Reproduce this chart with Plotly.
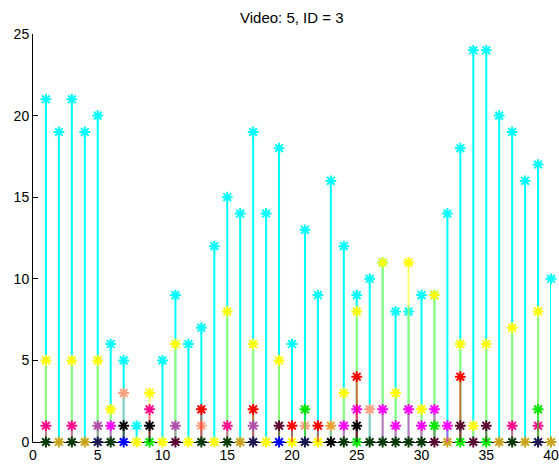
import plotly.graph_objects as go

N = None
frames = list(range(1, 41))

cyan = [21, 19, 21, 19, 20, 6, 5, 1, N, 5,
        9, 6, 7, 12, 15, 14, 19, 14, 18, 6,
        13, 9, 16, 12, 9, 10, 11, 8, 8, 9,
        9, 14, 18, 24, 24, 20, 19, 16, 17, 10]
yellow = [5, N, 5, N, 5, 2, N, 0, 3, 0,
          6, 0, N, 0, 8, N, 6, 0, 5, 0,
          N, 0, N, 3, 8, N, 11, 3, 11, 2,
          9, N, 6, 1, 6, N, 7, N, 8, N]
gold = [N, 0, N, 0, N, N, N, N, N, N,
        N, N, N, N, N, 0, N, N, N, N,
        N, N, N, N, N, N, N, N, N, N,
        N, 0, N, N, N, 0, N, 0, N, 0]
magenta = [N, N, N, N, N, 1, N, N, N, N,
           N, N, N, N, N, N, N, N, N, N,
           N, N, N, 1, 2, N, 2, 1, 2, 1,
           2, 1, N, N, N, N, N, N, N, N]
hotpink = [1, N, 1, N, N, N, N, N, 2, N,
           N, N, N, N, 1, N, N, N, N, N,
           N, N, N, N, N, N, N, N, N, N,
           N, N, N, N, N, N, 1, N, 1, N]
red = [N, N, N, N, N, N, N, N, N, N,
       N, N, 2, N, N, N, 2, N, N, 1,
       N, 1, N, N, 4, N, N, N, N, N,
       N, N, 4, N, N, N, N, N, N, N]
green = [N, N, N, N, N, N, N, N, 0, N,
         N, N, N, N, N, N, N, N, N, N,
         2, N, N, N, 0, N, N, N, N, N,
         1, N, 0, N, 0, N, N, N, 2, N]
salmon = [N, N, N, N, N, N, 3, N, N, N,
          N, N, 1, N, N, N, N, N, N, N,
          1, N, N, N, N, 2, N, N, N, N,
          N, N, N, N, N, N, N, N, N, N]
purple = [N, N, N, N, 1, N, N, N, N, N,
          1, N, N, N, N, N, 1, N, N, N,
          N, N, N, N, N, N, N, N, N, N,
          N, N, N, N, N, N, N, N, N, N]
orange = [N, N, N, N, N, N, N, N, N, N,
          N, N, N, N, N, N, N, N, N, N,
          N, N, 1, N, N, N, N, N, N, N,
          N, N, N, N, N, N, N, N, N, N]
maroon = [N, N, N, N, N, N, N, N, N, N,
          0, N, N, N, N, N, N, N, 1, N,
          N, N, N, N, N, N, N, N, N, N,
          0, N, 1, 0, 1, N, N, N, N, N]
black = [N, N, N, N, N, N, 1, N, 1, N,
         N, N, N, N, N, N, N, N, N, N,
         N, N, 0, N, 1, N, N, N, N, N,
         N, N, N, N, N, N, N, N, N, N]
darkgreen = [0, N, 0, N, N, 0, N, N, N, N,
             N, N, 0, N, 0, N, N, N, N, N,
             N, N, N, 0, N, 0, 0, 0, 0, 0,
             N, N, N, N, N, N, 0, N, N, N]
navy = [N, N, N, N, 0, N, N, N, N, N,
        N, N, N, N, N, N, 0, N, N, N,
        0, N, N, N, N, N, N, N, N, N,
        N, N, N, N, N, N, N, N, 0, N]
blue = [N, N, N, N, N, N, 0, N, N, N,
        N, N, N, N, N, N, N, N, 0, N,
        N, N, N, N, N, N, N, N, N, N,
        N, N, N, N, N, N, N, N, N, N]

series = [
    (cyan, (0, 255, 255), 1.0),
    (yellow, (255, 255, 0), 0.55),
    (gold, (200, 164, 30), 0.55),
    (salmon, (255, 160, 128), 0.55),
    (magenta, (255, 0, 255), 0.55),
    (hotpink, (255, 10, 140), 0.55),
    (red, (255, 0, 0), 0.55),
    (green, (0, 230, 0), 0.55),
    (purple, (176, 80, 168), 0.55),
    (orange, (232, 160, 48), 0.55),
    (maroon, (90, 10, 48), 0.55),
    (black, (0, 0, 0), 0.55),
    (darkgreen, (10, 58, 10), 0.55),
    (navy, (26, 26, 80), 0.55),
    (blue, (0, 0, 255), 0.55),
]

fig = go.Figure()
for vals, (r, g, b), a in series:
    xs = [f for f, v in zip(frames, vals) if v is not None]
    ys = [v for v in vals if v is not None]
    fig.add_trace(go.Scatter(
        x=xs, y=ys, mode="markers", cliponaxis=False, showlegend=False,
        marker=dict(symbol="asterisk-open", size=9,
                    color=f"rgb({r},{g},{b})",
                    line=dict(color=f"rgb({r},{g},{b})", width=2)),
        error_y=dict(type="data", symmetric=False, array=[0] * len(ys),
                     arrayminus=ys, color=f"rgba({r},{g},{b},{a})",
                     thickness=2, width=0),
    ))

axis_font = dict(family="Liberation Sans, Arial, sans-serif", size=14, color="black")
fig.update_layout(
    width=559, height=464,
    margin=dict(l=33, r=8, t=34, b=22, autoexpand=False),
    paper_bgcolor="white", plot_bgcolor="white",
    title=dict(text="Video: 5, ID = 3", x=0.522, xanchor="center",
               y=0.962, yanchor="middle",
               font=dict(family="Liberation Sans, Arial, sans-serif", size=15, color="black")),
    xaxis=dict(range=[0, 40], tickvals=[0, 5, 10, 15, 20, 25, 30, 35, 40],
               showgrid=False, zeroline=False, showline=True, linecolor="black",
               linewidth=1, ticks="inside", ticklen=5, tickcolor="black",
               tickfont=axis_font, layer="below traces", automargin=False),
    yaxis=dict(range=[0, 25], tickvals=[0, 5, 10, 15, 20, 25],
               showgrid=False, zeroline=False, showline=True, linecolor="black",
               linewidth=1, ticks="inside", ticklen=5, tickcolor="black",
               tickfont=axis_font, layer="below traces", automargin=False),
)
fig.write_html("out.html", config={"displayModeBar": False},
               post_script="document.body.style.margin='0';document.body.style.overflow='hidden';")
